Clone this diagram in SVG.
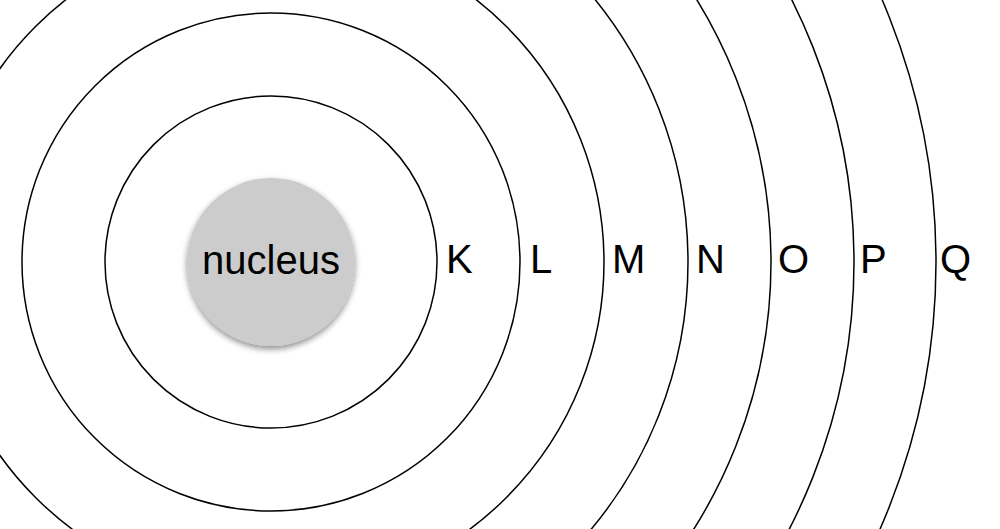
<svg xmlns="http://www.w3.org/2000/svg" width="1000" height="529" viewBox="0 0 1000 529">
<defs>
<style>
.shell{fill:none;stroke:#000;stroke-width:1.5}
.lbl{font-family:"Liberation Sans",Arial,sans-serif;font-size:40px;fill:#000}
</style>
<filter id="sh" x="-20%" y="-20%" width="140%" height="150%">
<feGaussianBlur in="SourceAlpha" stdDeviation="3"/>
<feOffset dy="3" result="b"/>
<feComponentTransfer><feFuncA type="linear" slope="0.45"/></feComponentTransfer>
<feMerge><feMergeNode/><feMergeNode in="SourceGraphic"/></feMerge>
</filter>
</defs>
<rect width="1000" height="529" fill="#fff"/>
<g id="shells">
<circle class="shell" cx="271" cy="262" r="166"/>
<circle class="shell" cx="271" cy="262" r="249"/>
<circle class="shell" cx="271" cy="262" r="333"/>
<circle class="shell" cx="271" cy="262" r="417"/>
<circle class="shell" cx="271" cy="262" r="500"/>
<circle class="shell" cx="271" cy="262" r="583"/>
<circle class="shell" cx="271" cy="262" r="665"/>
</g>
<g id="nucleus">
<circle cx="271" cy="262" r="84" fill="#cccccc" filter="url(#sh)"/>
<text class="lbl" x="271" y="274" text-anchor="middle">nucleus</text>
</g>
<g id="labels">
<text class="lbl" x="446" y="273">K</text>
<text class="lbl" x="530" y="273">L</text>
<text class="lbl" x="612" y="273">M</text>
<text class="lbl" x="696" y="273">N</text>
<text class="lbl" x="778" y="273">O</text>
<text class="lbl" x="860" y="273">P</text>
<text class="lbl" x="940" y="273">Q</text>
</g>
</svg>
